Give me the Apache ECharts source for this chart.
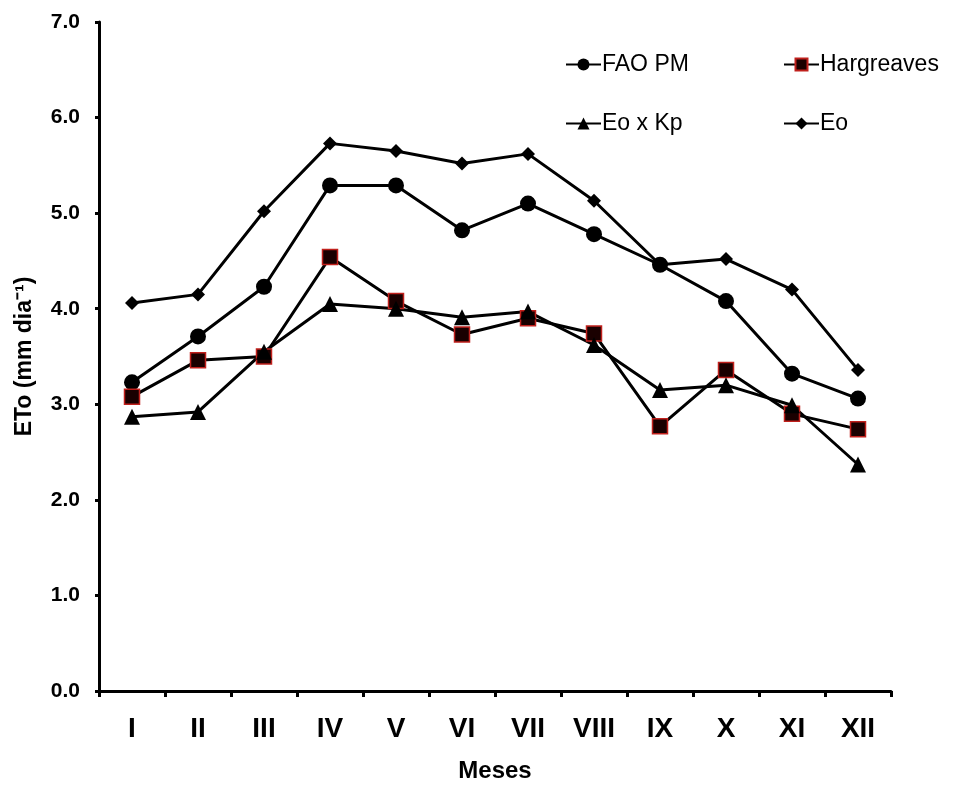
<!DOCTYPE html>
<html>
<head>
<meta charset="utf-8">
<script src="https://cdn.jsdelivr.net/npm/echarts@6/dist/echarts.min.js"></script>
<style>
  html, body { margin: 0; padding: 0; background: #fff; }
  #chart { width: 953px; height: 788px; }
</style>
</head>
<body>
<div id="chart"></div>
<script>
const months = ['I', 'II', 'III', 'IV', 'V', 'VI', 'VII', 'VIII', 'IX', 'X', 'XI', 'XII']
const faoPm = [3.23, 3.71, 4.23, 5.29, 5.29, 4.82, 5.10, 4.78, 4.46, 4.08, 3.32, 3.06]
const hargreaves = [3.08, 3.46, 3.50, 4.54, 4.08, 3.73, 3.90, 3.74, 2.77, 3.36, 2.90, 2.74]
const eoKp = [2.87, 2.92, 3.55, 4.05, 4.00, 3.91, 3.97, 3.62, 3.15, 3.20, 2.99, 2.37]
const eo = [4.06, 4.15, 5.02, 5.73, 5.65, 5.52, 5.62, 5.13, 4.46, 4.52, 4.20, 3.36]

const narrow = "'Liberation Sans Narrow', 'Liberation Sans', Arial, sans-serif"
const sans = "'Liberation Sans', Arial, sans-serif"

const lineSeries = (name, data, symbol, size, itemStyle) => ({
  name,
  type: 'line',
  data,
  symbol,
  symbolSize: size,
  showSymbol: true,
  lineStyle: { color: '#000', width: 3 },
  itemStyle: Object.assign({ color: '#000', opacity: 1 }, itemStyle),
  emphasis: { disabled: true },
  z: 3,
})

const legendItem = (name, left, top) => ({
  data: [name],
  left,
  top,
  itemWidth: 35,
  itemHeight: 15,
  textStyle: { fontFamily: sans, fontSize: 23, color: '#000', padding: [0, 0, 0, -4] },
  selectedMode: false,
})

const chart = echarts.init(document.getElementById('chart'))
chart.setOption({
  animation: false,
  backgroundColor: '#fff',
  grid: { left: 99, top: 22, width: 792, height: 671, containLabel: false },
  legend: [
    legendItem('FAO PM', 560, 48),
    legendItem('Hargreaves', 778, 48),
    legendItem('Eo x Kp', 560, 107),
    legendItem('Eo', 778, 107),
  ],
  xAxis: {
    type: 'category',
    data: months,
    boundaryGap: true,
    name: 'Meses',
    nameLocation: 'middle',
    nameGap: 68,
    nameTextStyle: { fontFamily: sans, fontWeight: 'bold', fontSize: 24, color: '#000' },
    axisLine: { lineStyle: { color: '#000', width: 3 } },
    axisTick: { show: true, length: 6, alignWithLabel: false, lineStyle: { color: '#000', width: 3 } },
    axisLabel: { margin: 24, fontFamily: narrow, fontWeight: 'bold', fontSize: 28, color: '#000' },
    splitLine: { show: false },
  },
  yAxis: {
    type: 'value',
    min: 0,
    max: 7,
    interval: 1,
    name: 'ETo (mm dia⁻¹)',
    nameLocation: 'middle',
    nameGap: 63,
    nameTextStyle: { fontFamily: sans, fontWeight: 'bold', fontSize: 23, color: '#000' },
    axisLine: { show: true, lineStyle: { color: '#000', width: 3 } },
    axisTick: { show: true, length: 4, lineStyle: { color: '#000', width: 3 } },
    axisLabel: {
      margin: 19,
      fontFamily: sans,
      fontWeight: 'bold',
      fontSize: 21,
      color: '#000',
      formatter: (v) => v.toFixed(1),
    },
    splitLine: { show: false },
  },
  series: [
    lineSeries('FAO PM', faoPm, 'circle', 16, {}),
    lineSeries('Hargreaves', hargreaves, 'rect', 15, { color: '#1a0000', borderColor: '#c0201c', borderWidth: 1.5 }),
    lineSeries('Eo x Kp', eoKp, 'triangle', 16, {}),
    lineSeries('Eo', eo, 'diamond', 14, {}),
  ],
})
</script>
</body>
</html>
